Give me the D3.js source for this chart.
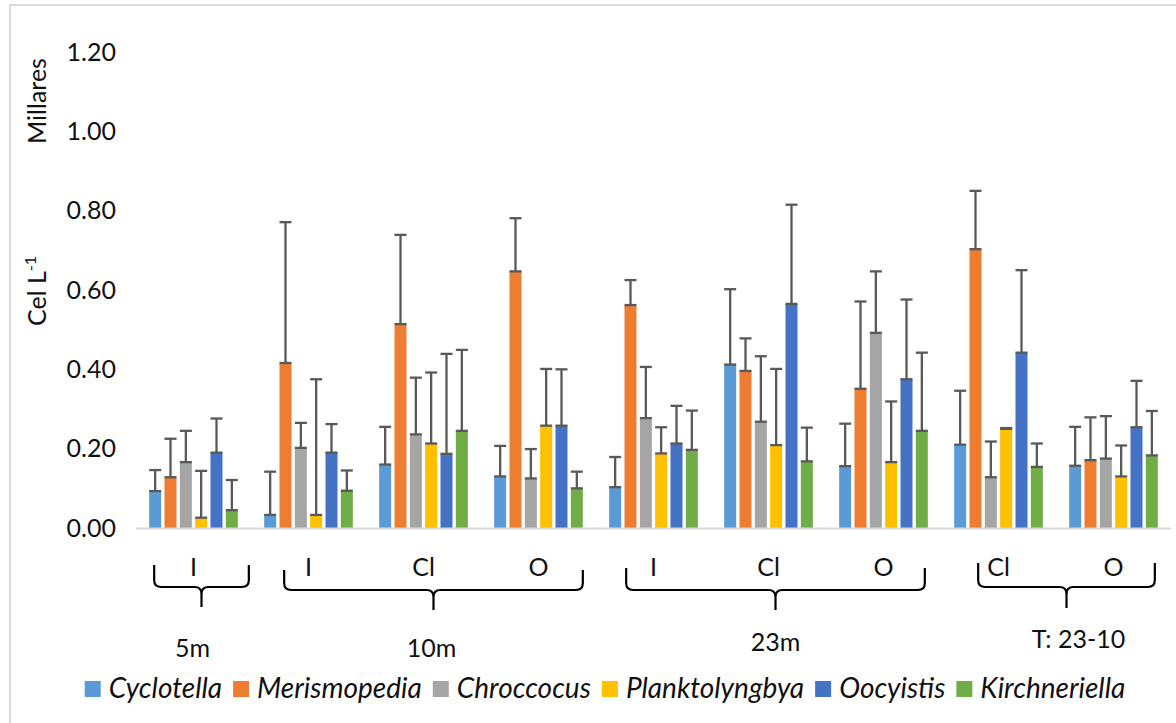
<!DOCTYPE html>
<html>
<head>
<meta charset="utf-8">
<script src="https://cdn.jsdelivr.net/npm/d3@7"></script>
<style>
  html, body { margin: 0; padding: 0; background: #fff; }
  svg { display: block; font-family: Lato, "Open Sans", sans-serif; }
</style>
</head>
<body>
<svg id="chart" width="1176" height="723"></svg>
<script>
// ---- data -------------------------------------------------------------
const series = ["Cyclotella", "Merismopedia", "Chroccocus", "Planktolyngbya", "Oocyistis", "Kirchneriella"];
const sites = ["I", "I", "Cl", "O", "I", "Cl", "O", "Cl", "O"];
const depths = ["5m", "10m", "23m", "T: 23-10"];
const depthSiteCount = [1, 3, 3, 2];
const yTicks = [0, 0.2, 0.4, 0.6, 0.8, 1.0, 1.2];

// mean abundance (thousands of cells per litre), one value per site
const cyclotella     = [0.093, 0.033, 0.160, 0.130, 0.103, 0.412, 0.156, 0.210, 0.157];
const merismopedia   = [0.128, 0.416, 0.514, 0.647, 0.562, 0.396, 0.351, 0.703, 0.171];
const chroccocus     = [0.166, 0.202, 0.236, 0.125, 0.277, 0.268, 0.492, 0.128, 0.175];
const planktolyngbya = [0.026, 0.033, 0.213, 0.258, 0.188, 0.209, 0.166, 0.250, 0.130];
const oocyistis      = [0.190, 0.190, 0.187, 0.258, 0.213, 0.565, 0.375, 0.442, 0.254];
const kirchneriella  = [0.045, 0.094, 0.245, 0.100, 0.197, 0.168, 0.245, 0.154, 0.183];

// standard deviation (upper error bar length)
const cyclotellaSd     = [0.053, 0.109, 0.095, 0.077, 0.076, 0.190, 0.107, 0.136, 0.098];
const merismopediaSd   = [0.097, 0.355, 0.225, 0.134, 0.063, 0.082, 0.220, 0.147, 0.108];
const chroccocusSd     = [0.079, 0.063, 0.143, 0.074, 0.129, 0.165, 0.155, 0.090, 0.107];
const planktolyngbyaSd = [0.118, 0.342, 0.179, 0.143, 0.066, 0.192, 0.153, 0.002, 0.078];
const oocyistisSd      = [0.086, 0.072, 0.252, 0.142, 0.095, 0.250, 0.201, 0.208, 0.117];
const kirchneriellaSd  = [0.076, 0.051, 0.204, 0.042, 0.099, 0.085, 0.197, 0.059, 0.112];

const means = [cyclotella, merismopedia, chroccocus, planktolyngbya, oocyistis, kirchneriella];
const sds = [cyclotellaSd, merismopediaSd, chroccocusSd, planktolyngbyaSd, oocyistisSd, kirchneriellaSd];

// ---- styles / layout --------------------------------------------------
const colors = ["#5B9BD5", "#ED7D31", "#A5A5A5", "#FFC000", "#4472C4", "#70AD47"];
const errColor = "#595959";
const textColor = "#111";
const fontSize = 25;
const legendFontSize = 28;

const W = 1176, H = 723;
const plot = { left: 136, right: 1171, top: 52, bottom: 528 };

const svg = d3.select("#chart");

svg.append("rect").attr("width", W).attr("height", H).attr("fill", "#fff");
svg.append("rect")
  .attr("x", 10).attr("y", 5).attr("width", W + 20).attr("height", H + 20)
  .attr("fill", "none").attr("stroke", "#D9D9D9").attr("stroke-width", 2);

// ---- scales -----------------------------------------------------------
const x0 = d3.scaleBand()
  .domain(d3.range(sites.length))
  .range([plot.left, plot.right])
  .paddingInner(0.229)
  .paddingOuter(0.1145);

const x1 = d3.scaleBand()
  .domain(d3.range(series.length))
  .range([0, x0.bandwidth()])
  .paddingInner(0.217);

const y = d3.scaleLinear().domain([0, 1.2]).range([plot.bottom, plot.top]);

// ---- y axis -----------------------------------------------------------
const yAxis = svg.append("g")
  .attr("transform", `translate(${plot.left},0)`)
  .call(d3.axisLeft(y).tickValues(yTicks).tickFormat(d3.format(".2f")).tickSize(0).tickPadding(20));
yAxis.select(".domain").remove();
yAxis.selectAll("text")
  .attr("font-family", "Lato, 'Open Sans', sans-serif")
  .attr("font-size", fontSize)
  .attr("fill", textColor);

// axis titles
svg.append("text")
  .attr("transform", "translate(46,101) rotate(-90)")
  .attr("text-anchor", "middle")
  .attr("font-size", fontSize)
  .attr("fill", textColor)
  .text("Millares");

const unit = svg.append("text")
  .attr("transform", "translate(46,291) rotate(-90)")
  .attr("text-anchor", "middle")
  .attr("font-size", fontSize)
  .attr("fill", textColor);
unit.append("tspan").text("Cel L");
unit.append("tspan").attr("font-size", 16).attr("dy", -10).text("-1");

// ---- bars -------------------------------------------------------------
const rows = [];
sites.forEach((site, i) => {
  series.forEach((name, s) => {
    rows.push({ i, s, v: means[s][i], e: sds[s][i] });
  });
});

const bw = x1.bandwidth();

svg.append("g").selectAll("rect")
  .data(rows)
  .join("rect")
  .attr("x", d => x0(d.i) + x1(d.s))
  .attr("y", d => y(d.v))
  .attr("width", bw)
  .attr("height", d => y(0) - y(d.v))
  .attr("fill", d => colors[d.s]);

// baseline
svg.append("line")
  .attr("x1", plot.left).attr("x2", plot.right)
  .attr("y1", y(0) + 0.5).attr("y2", y(0) + 0.5)
  .attr("stroke", "#D9D9D9").attr("stroke-width", 2);

// error bars
const eb = svg.append("g")
  .attr("stroke", errColor)
  .attr("stroke-width", 2.3)
  .attr("fill", "none");

eb.selectAll("line.stem")
  .data(rows)
  .join("line")
  .attr("class", "stem")
  .attr("x1", d => x0(d.i) + x1(d.s) + bw / 2)
  .attr("x2", d => x0(d.i) + x1(d.s) + bw / 2)
  .attr("y1", d => y(d.v))
  .attr("y2", d => y(d.v + d.e));

eb.selectAll("line.cap")
  .data(rows)
  .join("line")
  .attr("class", "cap")
  .attr("x1", d => x0(d.i) + x1(d.s))
  .attr("x2", d => x0(d.i) + x1(d.s) + bw)
  .attr("y1", d => y(d.v + d.e))
  .attr("y2", d => y(d.v + d.e));

eb.selectAll("line.base")
  .data(rows)
  .join("line")
  .attr("class", "base")
  .attr("x1", d => x0(d.i) + x1(d.s))
  .attr("x2", d => x0(d.i) + x1(d.s) + bw)
  .attr("y1", d => y(d.v))
  .attr("y2", d => y(d.v));

// ---- site labels ------------------------------------------------------
svg.append("g").selectAll("text")
  .data(sites)
  .join("text")
  .attr("x", (d, i) => x0(i) + x0.bandwidth() / 2)
  .attr("y", 576)
  .attr("text-anchor", "middle")
  .attr("font-size", fontSize)
  .attr("fill", textColor)
  .text(d => d);

// ---- depth braces -----------------------------------------------------
// hand-placed brace geometry, relative to the site bands it spans
const braceStyle = [
  { dl: 5,  dr: 11, top: 565, mid: 587, tip: 607, lx: -9, ly: 657 },
  { dl: 20, dr: 0,  top: 570, mid: 590, tip: 610, lx: -2, ly: 657 },
  { dl: 17, dr: -3, top: 568, mid: 590, tip: 610, lx: 0,  ly: 651 },
  { dl: 24, dr: -3, top: 563, mid: 587, tip: 608, lx: 12, ly: 648 }
];

let start = 0;
depths.forEach((label, k) => {
  const first = start, last = start + depthSiteCount[k] - 1;
  start += depthSiteCount[k];
  const st = braceStyle[k];
  const l = x0(first) + st.dl;
  const r = x0(last) + x0.bandwidth() + st.dr;
  const c = (l + r) / 2;
  const rad = 7;
  const p = d3.path();
  p.moveTo(l, st.top);
  p.lineTo(l, st.mid - rad);
  p.quadraticCurveTo(l, st.mid, l + rad, st.mid);
  p.lineTo(c - rad, st.mid);
  p.quadraticCurveTo(c, st.mid, c, st.mid + rad);
  p.lineTo(c, st.tip);
  p.moveTo(r, st.top);
  p.lineTo(r, st.mid - rad);
  p.quadraticCurveTo(r, st.mid, r - rad, st.mid);
  p.lineTo(c + rad, st.mid);
  p.quadraticCurveTo(c, st.mid, c, st.mid + rad);
  svg.append("path")
    .attr("d", p.toString())
    .attr("fill", "none")
    .attr("stroke", "#000")
    .attr("stroke-width", 2.2);

  svg.append("text")
    .attr("x", c + st.lx)
    .attr("y", st.ly)
    .attr("text-anchor", "middle")
    .attr("font-size", fontSize)
    .attr("fill", textColor)
    .text(label);
});

// ---- legend -----------------------------------------------------------
const legend = svg.append("g");
const sw = 16, gapText = 8, gapItem = 11;
let lx = 0;
series.forEach((name, s) => {
  const g = legend.append("g").attr("transform", `translate(${lx},0)`);
  g.append("rect").attr("x", 0).attr("y", 681).attr("width", sw).attr("height", sw).attr("fill", colors[s]);
  const t = g.append("text")
    .attr("x", sw + gapText)
    .attr("y", 698)
    .attr("font-size", legendFontSize)
    .attr("font-style", "italic")
    .attr("fill", textColor)
    .text(name);
  lx += sw + gapText + t.node().getComputedTextLength() + gapItem;
});
const legendWidth = lx - gapItem;
legend.attr("transform", `translate(${605 - legendWidth / 2},0)`);
</script>
</body>
</html>
